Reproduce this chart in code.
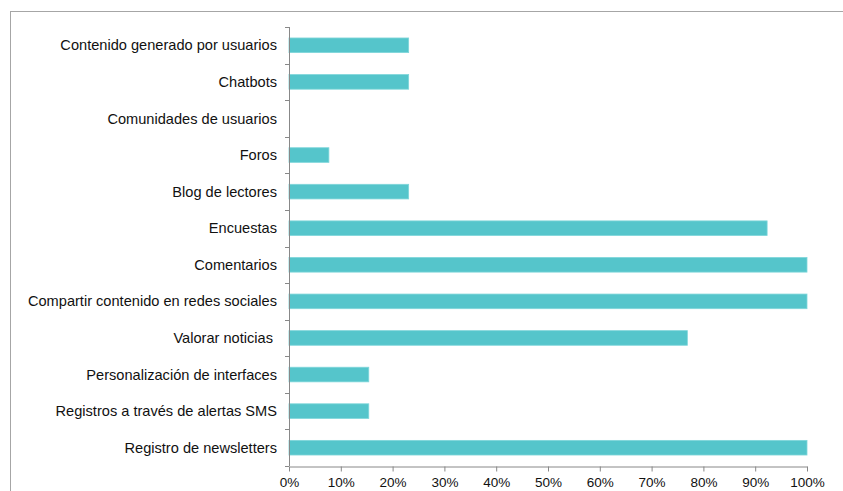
<!DOCTYPE html>
<html>
<head>
<meta charset="utf-8">
<script src="https://cdn.jsdelivr.net/npm/d3@7"></script>
<style>
  body { margin: 0; background: #fff; }
  text { font-family: "Liberation Sans", Arial, sans-serif; fill: #111; }
</style>
</head>
<body>
<div id="chart"></div>
<script>
const categories = [
  'Contenido generado por usuarios',
  'Chatbots',
  'Comunidades de usuarios',
  'Foros',
  'Blog de lectores',
  'Encuestas',
  'Comentarios',
  'Compartir contenido en redes sociales',
  'Valorar noticias ',
  'Personalización de interfaces',
  'Registros a través de alertas SMS',
  'Registro de newsletters'
]
const values = [23.1, 23.1, 0, 7.7, 23.1, 92.3, 100, 100, 76.9, 15.4, 15.4, 100]
const ticks = [0, 10, 20, 30, 40, 50, 60, 70, 80, 90, 100]

const width = 843
const height = 491
const margin = { top: 27, left: 289, right: 36, bottom: 25 }

const svg = d3
  .select('#chart')
  .append('svg')
  .attr('width', width)
  .attr('height', height)

// outer frame (runs off the right and bottom edges)
svg
  .append('rect')
  .attr('x', 10.5)
  .attr('y', 11.5)
  .attr('width', 850)
  .attr('height', 500)
  .attr('fill', 'none')
  .attr('stroke', '#a6a6a6')
  .attr('stroke-width', 1)

const x = d3
  .scaleLinear()
  .domain([0, 100])
  .range([margin.left, width - margin.right])

const y = d3
  .scaleBand()
  .domain(categories)
  .range([margin.top, height - margin.bottom])
  .paddingInner(0.6)
  .paddingOuter(0.3)

const data = categories.map((c, i) => ({ name: c, value: values[i] }))

svg
  .selectAll('.bar')
  .data(data)
  .enter()
  .append('rect')
  .attr('class', 'bar')
  .attr('x', x(0))
  .attr('y', d => y(d.name))
  .attr('width', d => x(d.value) - x(0))
  .attr('height', y.bandwidth())
  .attr('fill', '#55c5cb')
  .attr('stroke', d => (d.value > 0 ? '#7fd6da' : 'none'))
  .attr('stroke-width', 0.8)

// y axis: ticks on category boundaries
const yAxis = svg.append('g')
yAxis
  .append('line')
  .attr('x1', x(0) + 0.5)
  .attr('x2', x(0) + 0.5)
  .attr('y1', margin.top)
  .attr('y2', height - margin.bottom)
  .attr('stroke', '#888')
const bounds = d3.range(categories.length + 1).map(i => margin.top + i * (height - margin.top - margin.bottom) / categories.length)
yAxis
  .selectAll('.ytick')
  .data(bounds)
  .enter()
  .append('line')
  .attr('x1', x(0) - 4)
  .attr('x2', x(0))
  .attr('y1', d => Math.round(d) + 0.5)
  .attr('y2', d => Math.round(d) + 0.5)
  .attr('stroke', '#888')

yAxis
  .selectAll('.ylabel')
  .data(data)
  .enter()
  .append('text')
  .attr('x', x(0) - 12)
  .attr('y', d => y(d.name) + y.bandwidth() / 2)
  .attr('dy', '0.35em')
  .attr('text-anchor', 'end')
  .attr('font-size', 14.6)
  .style('white-space', 'pre')
  .text(d => d.name)

// x axis
const xAxis = d3
  .axisBottom(x)
  .tickValues(ticks)
  .tickFormat(d => d + '%')
  .tickSize(5)
  .tickSizeOuter(0)

const gx = svg
  .append('g')
  .attr('transform', `translate(0,${height - margin.bottom + 0.5})`)
  .call(xAxis)
gx.select('.domain').attr('stroke', '#888')
gx.selectAll('.tick line').attr('stroke', '#888')
gx.selectAll('.tick text')
  .attr('font-size', 13.5)
  .attr('fill', '#111')
  .attr('dy', '0.95em')
  .style('font-family', '"Liberation Sans", Arial, sans-serif')
</script>
</body>
</html>
